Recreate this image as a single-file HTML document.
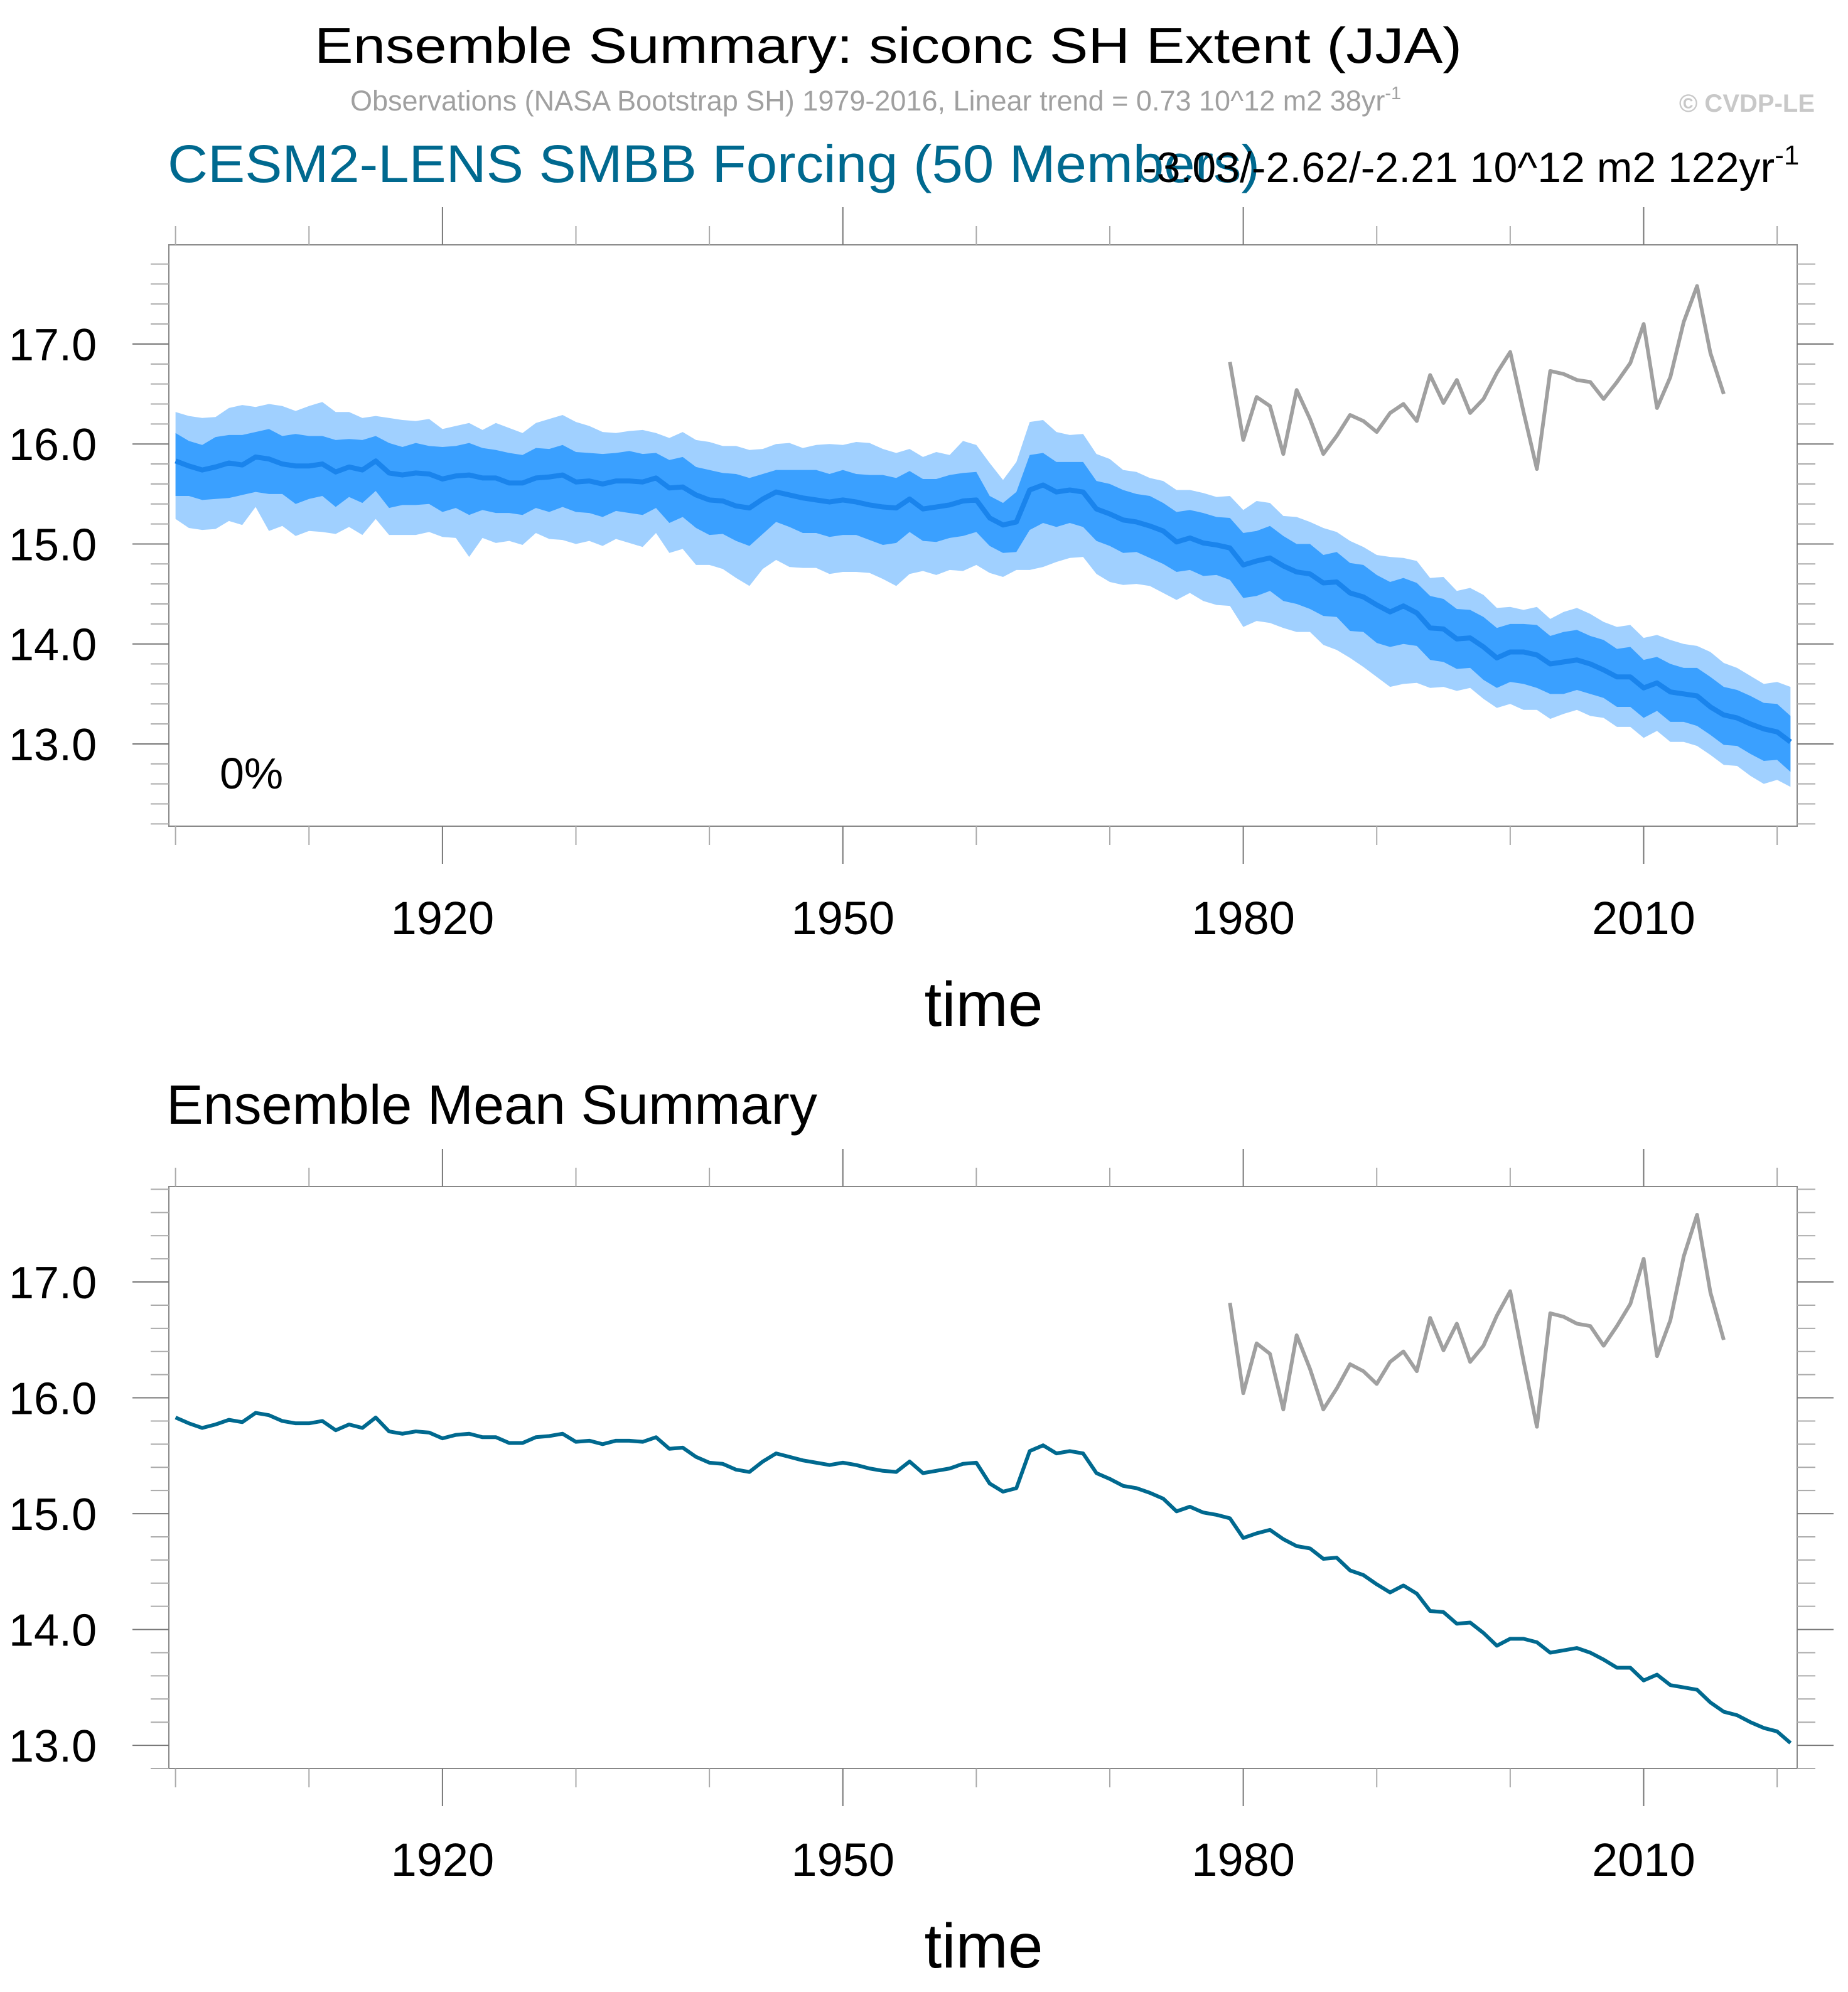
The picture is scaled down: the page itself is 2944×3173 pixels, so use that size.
<!DOCTYPE html>
<html><head><meta charset="utf-8">
<style>
html,body{margin:0;padding:0;background:#fff;}
svg{display:block;font-family:"Liberation Sans",sans-serif;}
</style></head>
<body>
<svg id="chart" width="2944" height="3173" viewBox="0 0 2944 3173" xmlns="http://www.w3.org/2000/svg">
<text x="1415" y="100" font-size="80" text-anchor="middle" textLength="1828" lengthAdjust="spacingAndGlyphs">Ensemble Summary: siconc SH Extent (JJA)</text>
<text x="558" y="176" font-size="45" fill="#a0a0a0">Observations (NASA Bootstrap SH) 1979-2016, Linear trend = 0.73 10^12 m2 38yr<tspan dy="-18" font-size="29">-1</tspan></text>
<text x="2891" y="178" font-size="40" font-weight="bold" fill="#c8c8c8" text-anchor="end">© CVDP-LE</text>
<text x="267" y="290" font-size="84" fill="#00698f" textLength="1740" lengthAdjust="spacingAndGlyphs">CESM2-LENS SMBB Forcing (50 Members)</text>
<text x="1820" y="290" font-size="68">-3.03/-2.62/-2.21 10^12 m2 122yr<tspan dy="-28" font-size="44">-1</tspan></text>
<g id="p1"></g>
<text x="265" y="1790" font-size="88">Ensemble Mean Summary</text>
<g id="p2"></g>
</svg>
<script>
const years = [];
for (let y = 1900; y <= 2021; y++) years.push(y);
const ensMean = [15.83,15.78,15.74,15.77,15.81,15.79,15.87,15.85,15.80,15.78,
15.78,15.80,15.72,15.77,15.74,15.83,15.71,15.69,15.71,15.70,
15.65,15.68,15.69,15.66,15.66,15.61,15.61,15.66,15.67,15.69,
15.62,15.63,15.60,15.63,15.63,15.62,15.66,15.56,15.57,15.49,
15.44,15.43,15.38,15.36,15.45,15.52,15.49,15.46,15.44,15.42,
15.44,15.42,15.39,15.37,15.36,15.45,15.35,15.37,15.39,15.43,
15.44,15.26,15.19,15.22,15.54,15.59,15.52,15.54,15.52,15.35,
15.30,15.24,15.22,15.18,15.13,15.02,15.06,15.01,14.99,14.96,
14.79,14.83,14.86,14.78,14.72,14.70,14.61,14.62,14.51,14.47,
14.39,14.32,14.38,14.31,14.16,14.15,14.05,14.06,13.97,13.86,
13.92,13.92,13.89,13.80,13.82,13.84,13.80,13.74,13.67,13.67,
13.56,13.61,13.52,13.50,13.48,13.37,13.29,13.26,13.20,13.15,13.12,13.02];
const outerHi = [.49,.50,.52,.50,.55,.60,.50,.55,.58,.55,
.60,.62,.60,.55,.52,.45,.55,.55,.52,.55,
.50,.50,.52,.48,.55,.55,.50,.55,.58,.60,
.60,.55,.52,.48,.50,.52,.45,.50,.55,.55,
.58,.55,.60,.58,.50,.48,.52,.50,.55,.58,
.55,.60,.62,.58,.55,.50,.52,.55,.50,.60,
.55,.55,.45,.60,.68,.65,.60,.55,.58,.55,
.55,.50,.50,.48,.50,.52,.48,.50,.48,.52,
.55,.60,.55,.50,.55,.52,.55,.50,.52,.50,
.50,.55,.48,.52,.50,.52,.48,.50,.52,.50,
.45,.42,.48,.45,.50,.52,.50,.48,.50,.52,
.50,.48,.52,.50,.50,.55,.52,.50,.48,.45,.50,.55];
const outerLo = [.58,.62,.60,.62,.58,.60,.50,.72,.62,.70,
.65,.68,.62,.60,.65,.58,.62,.60,.62,.58,
.58,.62,.82,.60,.65,.58,.62,.55,.62,.65,
.62,.60,.62,.58,.62,.65,.55,.65,.62,.70,
.65,.68,.72,.78,.70,.68,.72,.70,.68,.72,
.72,.70,.68,.72,.78,.75,.62,.68,.65,.70,
.65,.55,.52,.48,.80,.82,.70,.68,.65,.65,
.68,.65,.62,.60,.62,.58,.55,.58,.60,.58,
.62,.60,.65,.62,.60,.58,.62,.68,.65,.70,
.72,.75,.78,.70,.60,.58,.52,.50,.52,.50,
.52,.58,.55,.55,.52,.50,.52,.48,.50,.50,
.50,.48,.50,.48,.50,.48,.50,.48,.52,.55,.48,.45];
const innerHi = [.28,.25,.25,.30,.28,.30,.25,.30,.28,.32,
.30,.28,.32,.28,.30,.25,.30,.28,.30,.28,
.32,.30,.32,.30,.28,.30,.28,.30,.28,.30,
.30,.28,.30,.28,.30,.28,.25,.28,.30,.28,
.30,.28,.32,.30,.25,.22,.25,.28,.30,.28,
.30,.28,.30,.32,.30,.28,.30,.28,.30,.28,
.28,.22,.22,.30,.35,.32,.30,.28,.30,.28,
.30,.30,.28,.30,.28,.30,.28,.30,.28,.30,
.32,.30,.32,.30,.28,.30,.28,.30,.30,.32,
.30,.30,.28,.30,.32,.30,.30,.28,.30,.30,
.28,.28,.30,.28,.30,.30,.28,.30,.28,.30,
.28,.26,.28,.26,.28,.30,.28,.28,.28,.26,.28,.26];
const innerLo = [.35,.30,.30,.32,.35,.30,.35,.35,.30,.38,
.33,.32,.35,.30,.33,.30,.35,.30,.32,.30,
.33,.32,.40,.32,.35,.30,.32,.30,.35,.32,
.30,.32,.33,.30,.32,.33,.30,.35,.30,.33,
.35,.33,.35,.38,.35,.30,.32,.35,.33,.35,
.35,.33,.35,.38,.35,.33,.32,.35,.33,.35,
.32,.28,.28,.30,.40,.38,.35,.33,.35,.32,
.32,.33,.30,.32,.33,.30,.32,.33,.30,.32,
.33,.35,.33,.35,.32,.35,.33,.35,.38,.35,
.38,.35,.38,.33,.32,.33,.30,.30,.33,.30,
.30,.32,.33,.30,.32,.30,.30,.28,.30,.30,
.30,.28,.30,.28,.30,.28,.30,.28,.30,.32,.28,.30];
const obsYears = [];
for (let y = 1979; y <= 2016; y++) obsYears.push(y);
const obsVals = [16.82,16.04,16.47,16.38,15.90,16.54,16.25,15.90,16.08,16.29,
16.23,16.12,16.31,16.40,16.23,16.69,16.41,16.64,16.31,16.45,
16.71,16.92,16.32,15.75,16.73,16.70,16.64,16.62,16.45,16.62,
16.81,17.20,16.36,16.67,17.22,17.58,16.91,16.50];
const yTickLabels = ["13.0","14.0","15.0","16.0","17.0"];
const xTickLabels = ["1920","1950","1980","2010"];

const NS = "http://www.w3.org/2000/svg";
function mk(parent, tag, attrs) {
  const e = document.createElementNS(NS, tag);
  for (const k in attrs) e.setAttribute(k, attrs[k]);
  parent.appendChild(e);
  return e;
}
const X0 = 269, X1 = 2863;
function xs(y) { return X0 + (y - 1899.5) / (2021.5 - 1899.5) * (X1 - X0); }

function panel(g, top, bot, ymin, ymax, full, labelY, timeY) {
  const ys = v => bot - (v - ymin) / (ymax - ymin) * (bot - top);
  if (full) {
    const outer = [], inner = [];
    years.forEach((yr, i) => { outer.push(xs(yr) + "," + ys(ensMean[i] + outerHi[i])); inner.push(xs(yr) + "," + ys(ensMean[i] + innerHi[i])); });
    for (let i = years.length - 1; i >= 0; i--) { outer.push(xs(years[i]) + "," + ys(ensMean[i] - outerLo[i])); inner.push(xs(years[i]) + "," + ys(ensMean[i] - innerLo[i])); }
    const o = mk(g, "polygon", {points: outer.join(" "), fill: "#a0d0ff"});
    
    
    const n = mk(g, "polygon", {points: inner.join(" "), fill: "#3aa0ff"});
    
    
  }
  const mp = years.map((yr, i) => xs(yr) + "," + ys(ensMean[i])).join(" ");
  const ml = mk(g, "polyline", {points: mp, fill: "none", stroke: full ? "#1a84ec" : "#00698f", "stroke-width": full ? 8 : 6, "stroke-linejoin": "round"});
  
  
  const op = obsYears.map((yr, i) => xs(yr) + "," + ys(obsVals[i])).join(" ");
  const ol = mk(g, "polyline", {points: op, fill: "none", stroke: "#a0a0a0", "stroke-width": 6, "stroke-linejoin": "round"});
  
  
  const fr = mk(g, "rect", {x: X0, y: top, width: X1 - X0, height: bot - top, fill: "none", stroke: "#888", "stroke-width": 2});
  
  
  for (let k = Math.ceil(ymin * 5); k <= Math.floor(ymax * 5); k++) {
    const v = k / 5, y = ys(v), major = (k % 5 === 0);
    const len = major ? 58 : 29;
    mk(g, "line", {x1: X0 - len, x2: X0, y1: y, y2: y, stroke: major ? "#777" : "#aaa", "stroke-width": 2});
    mk(g, "line", {x1: X1, x2: X1 + len, y1: y, y2: y, stroke: major ? "#777" : "#aaa", "stroke-width": 2});
  }
  yTickLabels.forEach(s => {
    const t = mk(g, "text", {x: 14, y: ys(parseFloat(s)) + 26, "font-size": 72});
    t.textContent = s;
    
    
  });
  for (let yr = 1900; yr <= 2020; yr += 10) {
    const x = xs(yr), major = ((yr - 1920) % 30 === 0);
    const len = major ? 60 : 30;
    mk(g, "line", {x1: x, x2: x, y1: top - len, y2: top, stroke: major ? "#777" : "#aaa", "stroke-width": 2});
    mk(g, "line", {x1: x, x2: x, y1: bot, y2: bot + len, stroke: major ? "#777" : "#aaa", "stroke-width": 2});
  }
  xTickLabels.forEach(s => {
    const t = mk(g, "text", {x: xs(parseFloat(s)), y: labelY, "font-size": 74, "text-anchor": "middle"});
    t.textContent = s;
    
    
  });
  const tt = mk(g, "text", {x: 1567, y: timeY, "font-size": 100, "text-anchor": "middle"});
  tt.textContent = "time";
  
  
}
panel(document.getElementById("p1"), 390, 1316, 12.177, 17.992, true, 1488, 1634);
panel(document.getElementById("p2"), 1890, 2817, 12.80, 17.824, false, 2988, 3134);
const pct = mk(document.getElementById("p1"), "text", {x: 350, y: 1256, "font-size": 70});
pct.textContent = "0%";


</script>
</body></html>
